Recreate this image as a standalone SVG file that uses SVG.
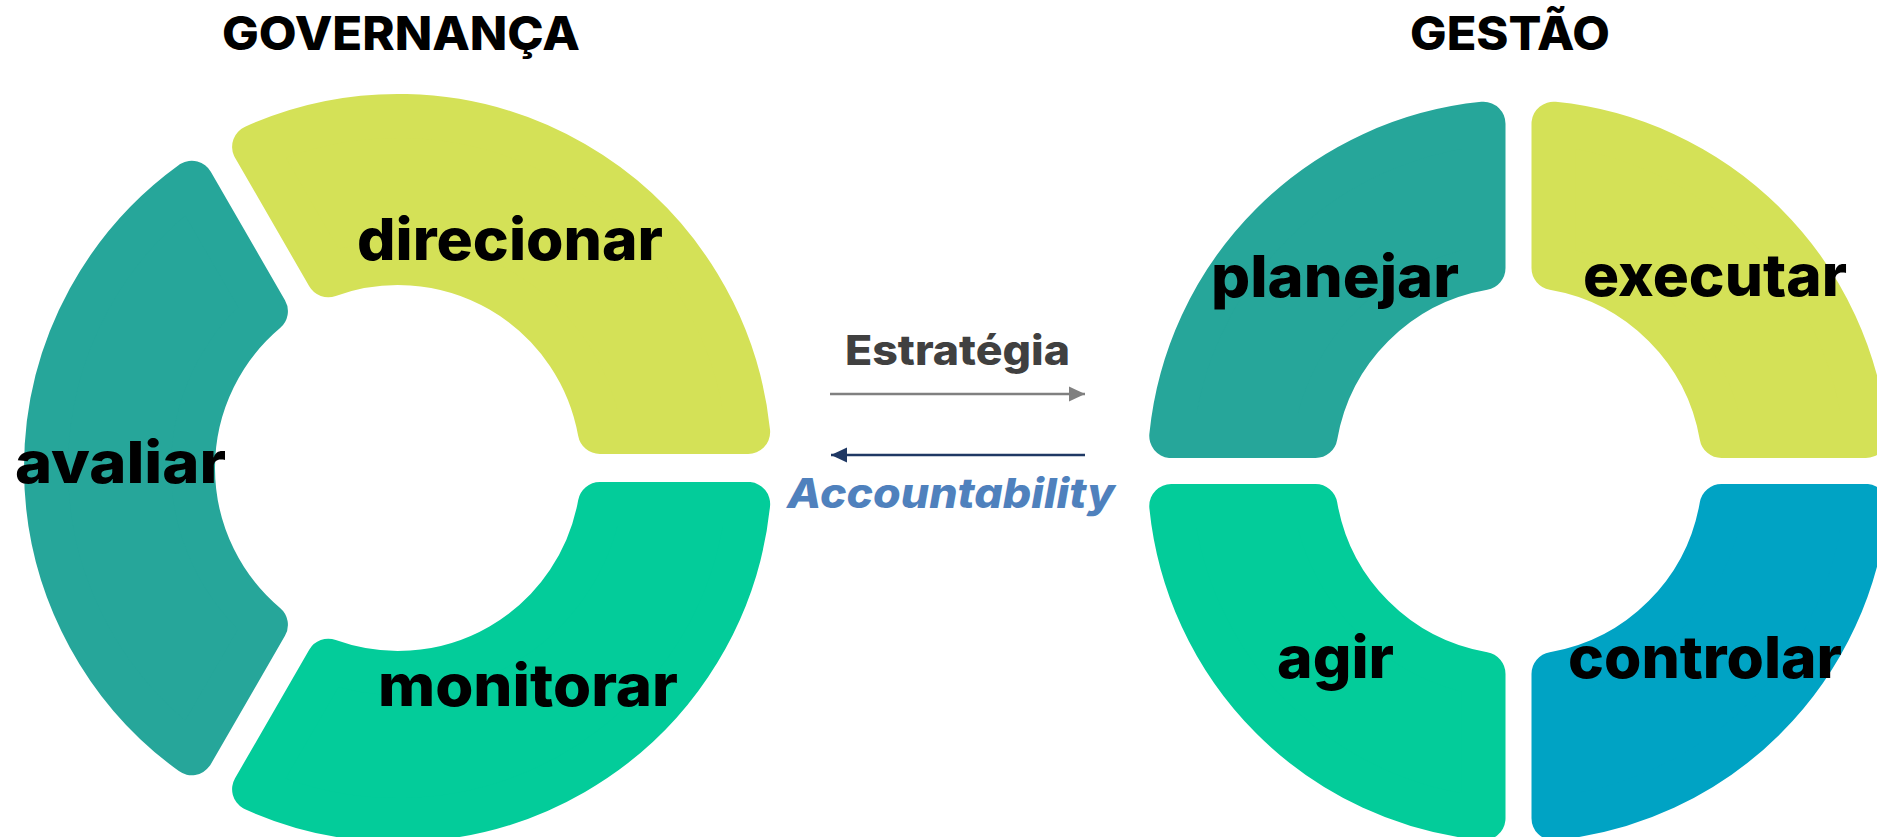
<svg xmlns="http://www.w3.org/2000/svg" width="1877" height="837" viewBox="0 0 1877 837">
  <style>
    .seg { stroke-width: 44; stroke-linejoin: round; }
    .yel { fill: #D4E157; stroke: #D4E157; }
    .teal { fill: #26A69A; stroke: #26A69A; }
    .grn { fill: #03CC9A; stroke: #03CC9A; }
    .blu { fill: #00A3C4; stroke: #00A3C4; }
    .lbl { font-family: Inter, "Open Sans", "DejaVu Sans", sans-serif; font-weight: 800; font-size: 58px; fill: #000000; }
    .title { font-family: Inter, "Open Sans", "DejaVu Sans", sans-serif; font-weight: 800; font-size: 46px; fill: #000000; }
    .mid { font-family: Inter, "Open Sans", "DejaVu Sans", sans-serif; font-weight: 800; font-size: 41px; }
  </style>
  <defs>
    <marker id="headGray" markerUnits="userSpaceOnUse" markerWidth="16" markerHeight="16" refX="16" refY="8" orient="auto">
      <path d="M0,0.5 L16,8 L0,15.5 Z" fill="#808080"/>
    </marker>
    <marker id="headNavy" markerUnits="userSpaceOnUse" markerWidth="16" markerHeight="16" refX="16" refY="8" orient="auto">
      <path d="M0,0.5 L16,8 L0,15.5 Z" fill="#1F3864"/>
    </marker>
  </defs>
  <rect x="0" y="0" width="1877" height="837" fill="#FFFFFF"/>

  <text class="title" x="222" y="50" textLength="358" lengthAdjust="spacingAndGlyphs">GOVERNANÇA</text>
  <text class="title" x="1410" y="50" textLength="200" lengthAdjust="spacingAndGlyphs">GESTÃO</text>

  <g id="direcionar">
    <path class="seg yel" d="M748.15,432 A352,352 0 0 0 254.1,146.77 L328.27,275.22 A205,205 0 0 1 599.82,432 Z"/>
    <text class="lbl" x="357" y="260" textLength="306" lengthAdjust="spacingAndGlyphs">direcionar</text>
  </g>
  <g id="avaliar">
    <path class="seg teal" d="M191.74,182.77 A352,352 0 0 0 191.74,753.23 L265.91,624.78 A205,205 0 0 1 265.91,311.22 Z"/>
    <text class="lbl" x="15" y="483" textLength="211" lengthAdjust="spacingAndGlyphs">avaliar</text>
  </g>
  <g id="monitorar">
    <path class="seg grn" d="M254.1,789.23 A352,352 0 0 0 748.15,504 L599.82,504 A205,205 0 0 1 328.27,660.78 Z"/>
    <text class="lbl" x="378" y="706" textLength="300" lengthAdjust="spacingAndGlyphs">monitorar</text>
  </g>

  <g id="planejar">
    <path class="seg teal" d="M1483.5,123.76 A349,349 0 0 0 1171.26,436 L1315.5,436 A206,206 0 0 1 1483.5,268 Z"/>
    <text class="lbl" x="1211" y="297" textLength="248" lengthAdjust="spacingAndGlyphs">planejar</text>
  </g>
  <g id="executar">
    <path class="seg yel" d="M1865.74,436 A349,349 0 0 0 1553.5,123.76 L1553.5,268 A206,206 0 0 1 1721.5,436 Z"/>
    <text class="lbl" x="1583" y="296" textLength="264" lengthAdjust="spacingAndGlyphs">executar</text>
  </g>
  <g id="agir">
    <path class="seg grn" d="M1171.26,506 A349,349 0 0 0 1483.5,818.24 L1483.5,674 A206,206 0 0 1 1315.5,506 Z"/>
    <text class="lbl" x="1277" y="678" textLength="117" lengthAdjust="spacingAndGlyphs">agir</text>
  </g>
  <g id="controlar">
    <path class="seg blu" d="M1553.5,818.24 A349,349 0 0 0 1865.74,506 L1721.5,506 A206,206 0 0 1 1553.5,674 Z"/>
    <text class="lbl" x="1568" y="678" textLength="274" lengthAdjust="spacingAndGlyphs">controlar</text>
  </g>

  <g id="connectors">
    <line x1="830" y1="394" x2="1085" y2="394" stroke="#808080" stroke-width="2.5" marker-end="url(#headGray)"/>
    <line x1="1085" y1="455" x2="831" y2="455" stroke="#1F3864" stroke-width="2.5" marker-end="url(#headNavy)"/>
    <text class="mid" x="845" y="365" fill="#404040" textLength="225" lengthAdjust="spacingAndGlyphs">Estratégia</text>
    <text class="mid" x="787" y="508" fill="#4F81BD" font-style="italic" textLength="328" lengthAdjust="spacingAndGlyphs">Accountability</text>
  </g>
</svg>
